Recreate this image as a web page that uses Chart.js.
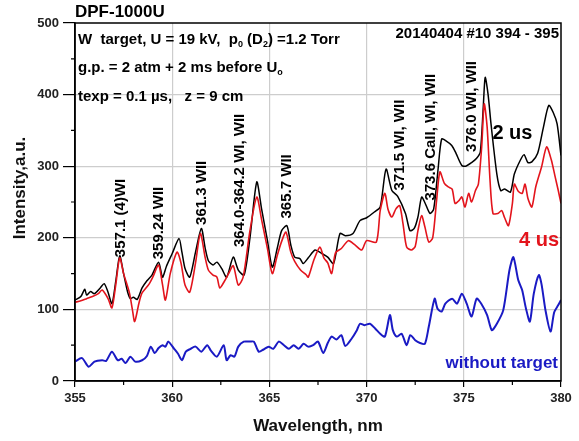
<!DOCTYPE html>
<html>
<head>
<meta charset="utf-8">
<script src="https://cdn.jsdelivr.net/npm/chart.js@4.4.1/dist/chart.umd.min.js"></script>
<style>
html,body{margin:0;padding:0;background:#fff;}
#wrap{width:579px;height:441px;position:relative;}
</style>
</head>
<body>
<div id="wrap"><canvas id="c" width="579" height="441"></canvas></div>
<script>
// ---- data ----
const xTicks = [355, 360, 365, 370, 375, 380];
const yTicks = [0, 100, 200, 300, 400, 500];

const blackX = [355.0,355.3,355.5,355.6,355.8,356.0,356.3,356.5,356.7,356.9,357.1,357.3,357.5,357.7,357.85,358.0,358.2,358.45,358.7,358.96,359.3,359.5,359.7,360.0,360.35,360.5,360.66,360.9,361.2,361.5,361.7,361.86,362.1,362.3,362.55,362.8,363.14,363.4,363.7,364.0,364.35,364.6,364.9,365.15,365.4,365.63,365.9,366.1,366.3,366.57,366.74,367.0,367.35,367.7,368.0,368.3,368.63,368.9,369.3,369.66,370.0,370.4,370.7,371.0,371.3,371.6,372.0,372.23,372.45,372.64,372.83,373.0,373.26,373.45,373.67,373.86,374.1,374.38,374.6,374.9,375.1,375.4,375.66,375.85,376.0,376.1,376.25,376.4,376.7,376.9,377.1,377.4,377.6,377.9,378.1,378.3,378.5,378.8,379.1,379.37,379.6,379.8,380.0];
const blackY = [113,118,128,120,125,122,130,136,124,108,140,175,150,125,115,117,114,130,140,148,166,145,160,178,199,180,157,145,180,213,185,168,162,166,157,145,173,155,148,200,278,240,196,159,185,210,217,190,173,171,164,172,183,178,173,164,206,203,206,224,228,236,243,296,266,258,234,210,213,229,257,249,234,240,294,338,335,329,318,301,300,305,311,320,382,424,400,359,289,266,268,264,289,308,316,305,306,318,355,385,375,359,315];

const redX = [355.0,355.3,355.6,355.9,356.2,356.4,356.7,356.9,357.1,357.3,357.5,357.8,357.95,358.07,358.3,358.45,358.8,359.0,359.3,359.5,359.65,359.9,360.25,360.45,360.66,360.9,361.2,361.45,361.7,361.86,362.1,362.3,362.45,362.7,362.9,363.14,363.4,363.65,364.0,364.35,364.6,364.9,365.15,365.4,365.63,365.85,366.1,366.3,366.6,366.9,367.0,367.3,367.6,367.8,368.0,368.2,368.4,368.7,369.06,369.4,369.75,370.0,370.5,370.7,370.94,371.1,371.3,371.5,371.7,371.87,372.06,372.3,372.5,372.64,372.83,373.0,373.2,373.4,373.6,373.77,374.0,374.2,374.4,374.55,374.75,374.9,375.06,375.25,375.4,375.6,375.75,375.92,376.05,376.2,376.35,376.5,376.75,376.95,377.1,377.3,377.5,377.6,377.8,378.0,378.15,378.3,378.5,378.7,379.0,379.26,379.5,379.7,379.86,380.0];
const redY = [110,112,115,118,122,127,115,102,135,172,150,123,100,83,110,123,135,145,162,135,113,150,180,165,134,124,165,206,172,155,148,145,130,140,150,161,134,145,210,257,225,185,150,175,195,208,180,167,155,148,145,170,187,172,165,150,179,185,196,190,183,196,194,238,262,240,229,240,245,220,187,183,188,210,231,215,194,200,252,292,276,271,268,248,252,257,243,262,250,266,275,327,387,355,280,234,234,238,228,217,248,275,265,262,275,255,243,271,299,327,309,285,266,248];

const blueX = [355.0,355.36,355.7,356.0,356.4,356.6,356.9,357.2,357.4,357.6,357.85,358.1,358.45,358.7,358.9,359.1,359.3,359.5,359.65,359.8,360.1,360.3,360.5,360.7,360.95,361.2,361.5,361.8,362.0,362.3,362.65,362.8,363.0,363.2,363.4,363.68,364.0,364.2,364.45,364.7,364.96,365.2,365.48,365.75,366.0,366.25,366.5,366.76,367.0,367.25,367.5,367.77,368.0,368.2,368.45,368.7,368.9,369.2,369.5,369.66,369.9,370.17,370.45,370.7,370.94,371.2,371.35,371.55,371.8,372.06,372.25,372.5,372.75,373.0,373.2,373.5,373.65,373.86,374.05,374.4,374.65,374.9,375.15,375.4,375.66,375.9,376.2,376.44,376.7,377.03,377.35,377.55,377.8,378.0,378.2,378.4,378.6,378.86,379.0,379.2,379.46,379.65,379.86,380.0];
const blueY = [27,32,20,27,29,28,41,29,31,25,34,27,29,35,48,39,46,50,48,55,45,38,29,41,45,48,41,50,42,34,50,29,36,34,48,55,55,55,41,44,48,45,55,50,45,50,45,52,48,50,55,39,53,62,58,64,49,58,71,80,78,80,73,66,62,92,71,62,66,50,64,57,53,52,76,115,101,97,108,115,108,122,108,90,115,108,92,71,80,99,155,173,141,127,101,83,122,148,135,99,69,96,106,113];

const peakLabels = ["357.1 (4)WI", "359.24 WII", "361.3 WII", "364.0-364.2 WI, WII", "365.7 WII", "371.5 WI, WII", "373.6 CaII, WI, WII", "376.0 WI, WII"];
const peakLabelX = [357.35, 359.3, 361.5, 363.5, 365.9, 371.7, 373.3, 375.4];
const peakLabelY = [173, 170, 218, 187, 227, 266, 252, 320];

const seriesNames = ["2 us", "4 us", "without target"];

const pts = (xs, ys) => xs.map((x, i) => ({x: x, y: ys[i]}));

const FONT = "'Liberation Sans', Arial, sans-serif";

function richText(ctx, parts, x, y, size) {
  let cx = x;
  for (const [t, kind] of parts) {
    if (kind === 'sub') {
      ctx.font = `bold ${Math.round(size*0.6)}px ${FONT}`;
      ctx.fillText(t, cx, y + size*0.3);
    } else {
      ctx.font = `bold ${size}px ${FONT}`;
      ctx.fillText(t, cx, y);
    }
    cx += ctx.measureText(t).width;
  }
}

const decor = {
  id: 'decor',
  afterDraw(chart) {
    const ctx = chart.ctx;
    const a = chart.chartArea;
    const xs = chart.scales.x, ys = chart.scales.y;
    ctx.save();
    // frame
    ctx.strokeStyle = '#000';
    ctx.lineWidth = 1.5;
    ctx.strokeRect(a.left, a.top, a.right - a.left, a.bottom - a.top);
    // minor ticks
    ctx.lineWidth = 1.2;
    ctx.beginPath();
    for (let v = 357.5; v < 380; v += 5) {
      const px = xs.getPixelForValue(v);
      ctx.moveTo(px, a.bottom); ctx.lineTo(px, a.bottom + 4);
    }
    for (let v = 50; v < 500; v += 100) {
      const py = ys.getPixelForValue(v);
      ctx.moveTo(a.left, py); ctx.lineTo(a.left - 4, py);
    }
    ctx.stroke();

    // title
    ctx.fillStyle = '#000';
    ctx.textBaseline = 'middle';
    ctx.textAlign = 'left';
    ctx.font = `bold 17px ${FONT}`;
    ctx.fillText('DPF-1000U', a.left, 12);

    // y axis title
    ctx.save();
    ctx.translate(20, 188);
    ctx.rotate(-Math.PI / 2);
    ctx.textAlign = 'center';
    ctx.font = `bold 17px ${FONT}`;
    ctx.fillStyle = '#111';
    ctx.fillText('Intensity,a.u.', 0, 0);
    ctx.restore();

    // info lines
    const s = 15;
    richText(ctx, [['W  target, U = 19 kV,  p','n'],['0','sub'],[' (D','n'],['2','sub'],[') =1.2 Torr','n']], a.left + 3, 40, s);
    richText(ctx, [['g.p. = 2 atm + 2 ms before U','n'],['o','sub']], a.left + 3, 68, s);
    richText(ctx, [['texp = 0.1 \u00b5s,   z = 9 cm','n']], a.left + 3, 97, s);

    ctx.textAlign = 'right';
    ctx.font = `bold 15px ${FONT}`;
    ctx.fillText('20140404 #10 394 - 395', a.right - 2, 34);

    // peak labels (rotated)
    ctx.font = `bold 15px ${FONT}`;
    ctx.textAlign = 'left';
    ctx.textBaseline = 'middle';
    peakLabels.forEach((t, i) => {
      const px = xs.getPixelForValue(peakLabelX[i]);
      const py = ys.getPixelForValue(peakLabelY[i]);
      ctx.save();
      ctx.translate(px, py);
      ctx.rotate(-Math.PI / 2);
      ctx.fillText(t, 0, 0);
      ctx.restore();
    });

    // series labels
    ctx.textAlign = 'center';
    ctx.font = `bold 20px ${FONT}`;
    ctx.fillStyle = '#000';
    ctx.fillText(seriesNames[0], xs.getPixelForValue(377.5), ys.getPixelForValue(345));
    ctx.fillStyle = '#e3141c';
    ctx.textAlign = 'right';
    ctx.fillText(seriesNames[1], a.right - 2, ys.getPixelForValue(196));
    ctx.fillStyle = '#1a1ac4';
    ctx.font = `bold 17px ${FONT}`;
    ctx.fillText(seriesNames[2], a.right - 3, ys.getPixelForValue(25));
    ctx.restore();
  }
};

new Chart(document.getElementById('c'), {
  type: 'line',
  data: {
    datasets: [
      {label: seriesNames[1], data: pts(redX, redY), borderColor: '#e3141c', borderWidth: 1.6, order: 0},
      {label: seriesNames[0], data: pts(blackX, blackY), borderColor: '#000000', borderWidth: 1.5, order: 1},
      {label: seriesNames[2], data: pts(blueX, blueY), borderColor: '#1a1ac4', borderWidth: 2, order: 2}
    ]
  },
  options: {
    responsive: false,
    animation: false,
    events: [],
    elements: {point: {radius: 0}, line: {tension: 0.25, fill: false}},
    layout: {padding: {top: 23, right: 18, left: 0, bottom: 0}},
    plugins: {legend: {display: false}, tooltip: {enabled: false}, title: {display: false}},
    scales: {
      x: {
        type: 'linear', min: 355, max: 380,
        afterBuildTicks: s => { s.ticks = xTicks.map(v => ({value: v})); },
        afterFit: s => { s.height = 60; },
        ticks: {font: {family: FONT, size: 13, weight: 'bold'}, color: '#222', padding: 4, maxRotation: 0},
        grid: {color: c => (c.tick && (c.tick.value === 355 || c.tick.value === 380)) ? 'rgba(0,0,0,0)' : '#cdcdcd', lineWidth: 1.2, tickColor: '#000', tickLength: 6, drawOnChartArea: true},
        border: {display: true, color: '#000', width: 1.5},
        title: {display: true, text: 'Wavelength, nm', font: {family: FONT, size: 17, weight: 'bold'}, color: '#111', padding: {top: 8}}
      },
      y: {
        min: 0, max: 500,
        afterBuildTicks: s => { s.ticks = yTicks.map(v => ({value: v})); },
        afterFit: s => { s.width = 75; },
        ticks: {font: {family: FONT, size: 13, weight: 'bold'}, color: '#222', padding: 4},
        grid: {color: c => (c.tick && (c.tick.value === 0 || c.tick.value === 500)) ? 'rgba(0,0,0,0)' : '#cdcdcd', lineWidth: 1.2, tickColor: '#000', tickLength: 12},
        border: {display: true, color: '#000', width: 1.5},
        title: {display: false}
      }
    }
  },
  plugins: [decor]
});
</script>
</body>
</html>
